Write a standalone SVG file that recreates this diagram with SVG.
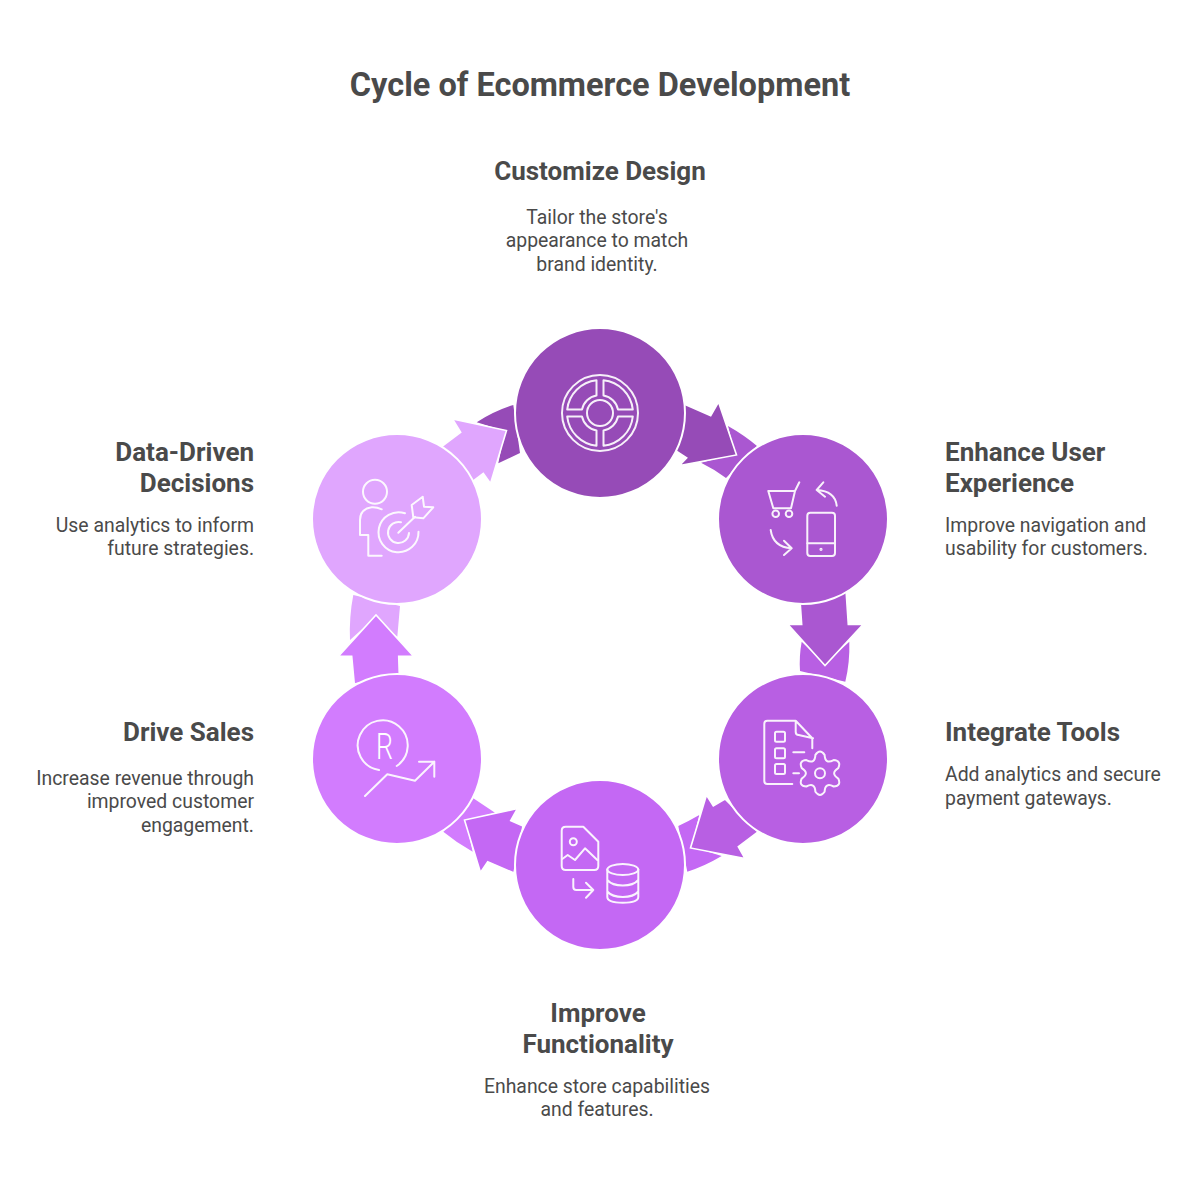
<svg xmlns="http://www.w3.org/2000/svg" width="1200" height="1200" viewBox="0 0 1200 1200">
<style>
text{font-family:"Roboto","Liberation Sans",sans-serif;fill:#4a4a4a}
.t{font-size:32.5px;font-weight:700}
.h{font-size:26px;font-weight:700}
.d{font-size:19.4px}
.m{text-anchor:middle}.e{text-anchor:end}
.n{stroke:#fff;stroke-width:2}
.a{stroke:#fff;stroke-width:1.6;stroke-linejoin:miter}
.i{fill:none;stroke:#fff;stroke-width:2;stroke-linecap:round;stroke-linejoin:round;opacity:.92}
.c1{fill:#964bb7}.c2{fill:#aa57d1}.c3{fill:#b85fe3}.c4{fill:#c468f4}.c5{fill:#d27cfe}.c6{fill:#e0a6fe}
</style>
<rect width="1200" height="1200" fill="#fff"/>
<text class="t m" x="600" y="96">Cycle of Ecommerce Development</text>
<g id="connectors">
<path class="c2" d="M728 426Q744 435 757 446L726 478Q714 469 701 462.7L735 454Z"/>
<path class="c3" d="M801.7 641.7L825 664L849.3 641.7Q850 662 845.3 681.7L800 671Q799 656 801.7 641.7Z"/>
<path class="c4" d="M699.3 815L691.7 846.7L721.7 856Q705 866 687.3 871.7L678.3 826Q689 821 699.3 815Z"/>
<path class="c5" d="M473.3 798.3L495 812.7L465.7 820.7L472.7 851.7Q457 843 443.3 831.7Z"/>
<path class="c6" d="M353.3 595L400 606L397.3 636.7L376 616.7L350 640Q349 617 353.3 595Z"/>
<path class="c1" d="M476.7 422.3Q494 411 513.3 405L520 453L498.3 463.3L505 431Z"/>
<path class="c1 a" d="M684 404L710.7 415.7L718.5 402L736.5 455L679.5 465.5L686.7 458L676 451Z"/>
<path class="c2 a" d="M800 600L846 590L848.3 624.5L863 624.5L825 665.5L788 624.5L801.7 624.5Z"/>
<path class="c3 a" d="M725 799L713.3 806L706.5 795L690.5 848L745 858.5L738.3 846.7L758 832Z"/>
<path class="c4 a" d="M523 826L510.7 820.7L517.5 808.5L464.5 820L480.5 872.5L487.7 861.7L514 873Z"/>
<path class="c5 a" d="M354.3 684L399.3 675L398.7 656.2L413.5 656.2L376 615L338.5 656.2L351.7 656.2Z"/>
<path class="c6 a" d="M441 447L460.7 432.3L452.5 419L506.5 430.5L490.5 483.5L483.3 473.3L472 482Z"/>
</g>
<g id="node-customize-design">
<circle class="c1 n" cx="600" cy="413" r="85"/>
<g class="i"><circle cx="600" cy="413" r="38"/><circle cx="600" cy="413" r="13"/>
<path d="M603.5 380.2A33 33 0 0 1 632.8 409.5L618 409.5A18 18 0 0 0 603.5 395.5Z"/>
<path d="M596.5 380.2A33 33 0 0 0 567.2 409.5L582 409.5A18 18 0 0 1 596.5 395.5Z"/>
<path d="M603.5 445.8A33 33 0 0 0 632.8 416.5L618 416.5A18 18 0 0 1 603.5 430.5Z"/>
<path d="M596.5 445.8A33 33 0 0 1 567.2 416.5L582 416.5A18 18 0 0 0 596.5 430.5Z"/></g>
<text class="h m" x="600" y="180">Customize Design</text>
<text class="d m" x="597" y="224">Tailor the store's</text>
<text class="d m" x="597" y="247">appearance to match</text>
<text class="d m" x="597" y="271">brand identity.</text>
</g>
<g id="node-enhance-user-experience">
<circle class="c2 n" cx="803" cy="519" r="85"/>
<g class="i"><path d="M768.3 491H795L799.3 482.3M795 491L791 508.3H773.3L768.3 491"/><circle cx="775.7" cy="513.7" r="3.3"/><circle cx="789" cy="513.7" r="3.3"/>
<path d="M836.7 505.7Q835 491 816.7 490M823.3 482.3L816.7 490L825 496.7"/>
<rect x="807.3" y="512.7" width="27.7" height="43.3" rx="3"/><path d="M807.3 543.3H835"/><circle cx="821" cy="549.3" r=".6"/>
<path d="M770.7 530Q773 547 791.7 548.3M784 540.7L791.7 548.3L784 555"/></g>
<text class="h" x="945" y="461">Enhance User</text>
<text class="h" x="945" y="492">Experience</text>
<text class="d" x="945" y="532">Improve navigation and</text>
<text class="d" x="945" y="555">usability for customers.</text>
</g>
<g id="node-integrate-tools">
<circle class="c3 n" cx="803" cy="759" r="85"/>
<g class="i"><path d="M812.3 748.3V738.3L795.7 720.7H767.3Q764.3 720.7 764.3 723.7V781Q764.3 784 767.3 784H792.3M795.7 720.7V732Q795.7 735 798.7 735L813 738.3"/>
<rect x="775" y="731.7" width="10" height="10" rx="1.5"/><rect x="775" y="748.3" width="10" height="10" rx="1.5"/><rect x="775" y="764" width="10" height="10" rx="1.5"/>
<path d="M793.3 752.3H804.3M793.3 773.3H799"/>
<circle cx="820" cy="773.3" r="5"/>
<path transform="translate(820 773.3)" d="M-4.6 -18.44Q0 -25 4.6 -18.44Q5 -8.66 13.67 -13.2Q21.65 -12.5 18.26 -5.24Q10 0 18.26 5.24Q21.65 12.5 13.67 13.2Q5 8.66 4.6 18.44Q0 25 -4.6 18.44Q-5 8.66 -13.67 13.2Q-21.65 12.5 -18.26 5.24Q-10 0 -18.26 -5.24Q-21.65 -12.5 -13.67 -13.2Q-5 -8.66 -4.6 -18.44Z"/></g>
<text class="h" x="945" y="741">Integrate Tools</text>
<text class="d" x="945" y="781">Add analytics and secure</text>
<text class="d" x="945" y="805">payment gateways.</text>
</g>
<g id="node-improve-functionality">
<circle class="c4 n" cx="600" cy="865" r="85"/>
<g class="i"><path d="M583.3 826.7H565.7Q561.7 826.7 561.7 830.7V866Q561.7 870 565.7 870H594.3Q598.3 870 598.3 866V841.7Z"/><circle cx="573.3" cy="841.7" r="3.5"/>
<path d="M562.3 859L567.7 855L575 860L585 848.3L597.3 860"/>
<path d="M573.3 879V887Q573.3 890 576.3 890H593.3M586 882.7L593.3 890L586 897.7"/>
<ellipse cx="622.8" cy="869.5" rx="15.5" ry="5.5"/><path d="M607.3 869.5V897Q607.3 902.7 622.8 902.7T638.3 897V869.5M607.3 880Q612 885.5 622.8 885.5T638.3 880M607.3 891.5Q612 897 622.8 897T638.3 891.5"/></g>
<text class="h m" x="598" y="1022">Improve</text>
<text class="h m" x="598" y="1053">Functionality</text>
<text class="d m" x="597" y="1093">Enhance store capabilities</text>
<text class="d m" x="597" y="1116">and features.</text>
</g>
<g id="node-drive-sales">
<circle class="c5 n" cx="397" cy="759" r="85"/>
<g class="i"><path d="M379 770A25 25 0 1 1 396.7 766"/>
<path d="M365 796L387.3 774.3L415 780.7L434.3 761.7M419 761.7H434.3V776.7"/></g>
<text x="384.5" y="759" text-anchor="middle" font-size="36" font-weight="300" textLength="17" lengthAdjust="spacingAndGlyphs" style="fill:#fff;font-family:Roboto,sans-serif">R</text>
<text class="h e" x="254" y="741">Drive Sales</text>
<text class="d e" x="254" y="785">Increase revenue through</text>
<text class="d e" x="254" y="808">improved customer</text>
<text class="d e" x="254" y="832">engagement.</text>
</g>
<g id="node-data-driven-decisions">
<circle class="c6 n" cx="397" cy="519" r="85"/>
<g class="i"><circle cx="375" cy="491.7" r="12"/>
<path d="M381.7 509.3Q377 507 371.7 507.3Q360 509 360 520V535H368.3V555.7H381.7"/>
<path d="M405 513.3A20 20 0 1 0 418.5 531.7"/><path d="M401 522.3A10.5 10.5 0 1 0 409 533"/>
<path d="M398.3 532.7L415 516.7"/><path d="M411.7 505L422.7 496.7L424 506.7L433.3 507.3L423.3 518.3L413.3 517.3Z"/></g>
<text class="h e" x="254" y="461">Data-Driven</text>
<text class="h e" x="254" y="492">Decisions</text>
<text class="d e" x="254" y="532">Use analytics to inform</text>
<text class="d e" x="254" y="555">future strategies.</text>
</g>
</svg>
